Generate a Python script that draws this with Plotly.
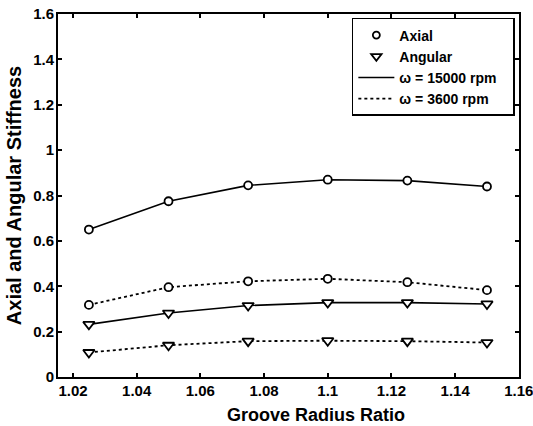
import plotly.graph_objects as go

ratio = [1.025, 1.05, 1.075, 1.1, 1.125, 1.15]
axial_15000 = [0.65, 0.775, 0.845, 0.87, 0.866, 0.84]
axial_3600 = [0.318, 0.396, 0.422, 0.433, 0.418, 0.383]
angular_15000 = [0.232, 0.282, 0.315, 0.328, 0.328, 0.322]
angular_3600 = [0.108, 0.14, 0.158, 0.16, 0.158, 0.152]

x_ticks = [1.02, 1.04, 1.06, 1.08, 1.1, 1.12, 1.14, 1.16]
x_labels = ["1.02", "1.04", "1.06", "1.08", "1.1", "1.12", "1.14", "1.16"]
y_ticks = [0, 0.2, 0.4, 0.6, 0.8, 1, 1.2, 1.4, 1.6]
y_labels = ["0", "0.2", "0.4", "0.6", "0.8", "1", "1.2", "1.4", "1.6"]

fnt = "Liberation Sans"
fig = go.Figure()

def add(y, sym, size, dash):
    fig.add_trace(go.Scatter(
        x=ratio, y=y, mode="lines+markers", showlegend=False,
        line=dict(color="black", width=1.6 if dash == "solid" else 1.8, dash=dash),
        marker=dict(symbol=sym, size=size, color="white",
                    line=dict(color="black", width=1.8))))

add(axial_15000, "circle", 8, "solid")
add(axial_3600, "circle", 8, "dot")
add(angular_15000, "triangle-down", 10, "solid")
add(angular_3600, "triangle-down", 10, "dot")

nb = "\u00a0\u00a0\u00a0"
fig.add_trace(go.Scatter(x=[None], y=[None], mode="markers", name="Axial" + nb,
                         marker=dict(symbol="circle", size=7, color="white",
                                     line=dict(color="black", width=1.8))))
fig.add_trace(go.Scatter(x=[None], y=[None], mode="markers", name="Angular" + nb,
                         marker=dict(symbol="triangle-down", size=9, color="white",
                                     line=dict(color="black", width=1.8))))
fig.add_trace(go.Scatter(x=[None], y=[None], mode="lines", name="ω = 15000 rpm" + nb,
                         line=dict(color="black", width=1.6, dash="solid")))
fig.add_trace(go.Scatter(x=[None], y=[None], mode="lines", name="ω = 3600 rpm" + nb,
                         line=dict(color="black", width=1.8, dash="dot")))

axis_common = dict(showgrid=False, zeroline=False, showline=True, linecolor="black",
                   linewidth=2, mirror="ticks", ticks="inside", ticklen=4,
                   tickcolor="black", tickwidth=1.5, automargin=False,
                   ticklabeloverflow="allow",
                   tickfont=dict(family=fnt, size=15, color="black", weight="bold"))

fig.update_layout(
    width=533, height=426,
    margin=dict(l=58, r=14, t=14, b=49),
    paper_bgcolor="white", plot_bgcolor="white",
    xaxis=dict(range=[1.0153, 1.16005], tickvals=x_ticks, ticktext=x_labels,
               ticklabelstandoff=-1, **axis_common),
    yaxis=dict(range=[0, 1.6005], tickvals=y_ticks, ticktext=y_labels,
               ticklabelstandoff=-1,
               title=dict(text="Axial and Angular Stiffness", standoff=6,
                          font=dict(family=fnt, size=20, color="black", weight="bold")),
               **axis_common),
    legend=dict(x=0.991, y=0.989, xanchor="right", yanchor="top",
                bgcolor="white", bordercolor="black", borderwidth=1.5,
                font=dict(family=fnt, size=14, color="black", weight="bold"),
                tracegroupgap=0, itemwidth=36),
    annotations=[dict(text="Groove Radius Ratio", xref="paper", yref="paper",
                      x=0.56, y=-0.105, xanchor="center", yanchor="middle",
                      showarrow=False,
                      font=dict(family=fnt, size=18, color="black", weight="bold"))],
)

fig.write_html("out.html")
